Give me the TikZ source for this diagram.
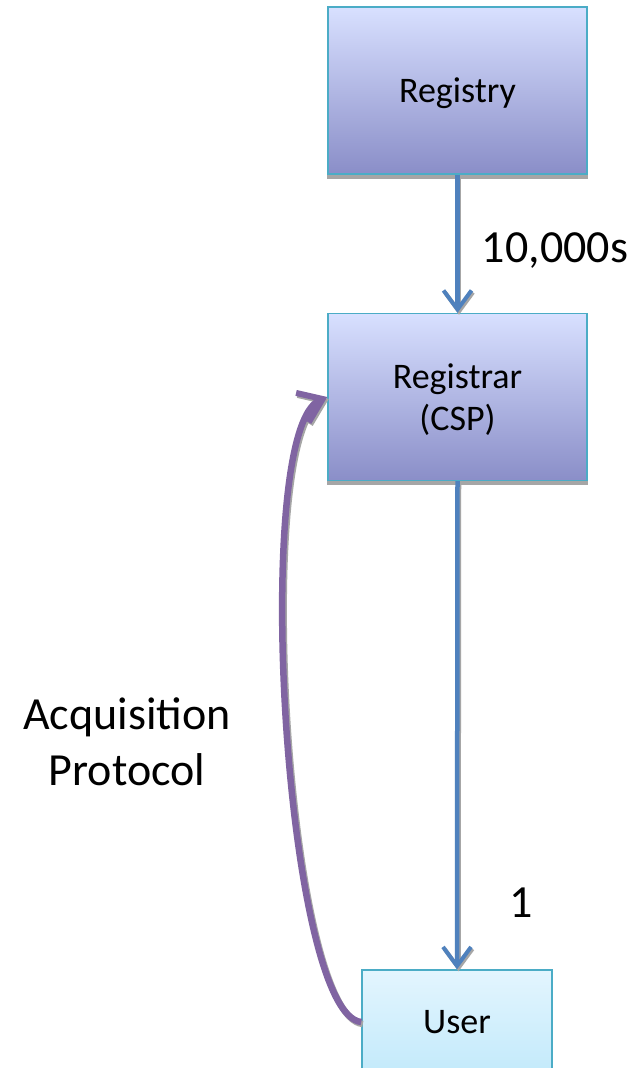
\documentclass[tikz,border=0pt]{standalone}
\usepackage{fontspec}
\setmainfont{Carlito}
\usetikzlibrary{arrows.meta}
\pgfdeclarelayer{bg}
\pgfsetlayers{bg,main}
\definecolor{boxtop}{HTML}{D8E0FF}
\definecolor{boxbot}{HTML}{8A8EC8}
\definecolor{usertop}{HTML}{E3F5FE}
\definecolor{userbot}{HTML}{C3EAFB}
\definecolor{boxedge}{HTML}{4BACC6}
\definecolor{blueline}{HTML}{4F81BD}
\definecolor{purpline}{HTML}{8064A2}
\begin{document}
\begin{tikzpicture}[x=1pt,y=-1pt,
  bigbox/.style={draw=boxedge, line width=1.4pt, top color=boxtop, bottom color=boxbot,
    minimum width=259pt, minimum height=167pt, inner sep=0pt, align=center, text depth=0pt,
    font=\fontsize{36}{42}\selectfont},
  userbox/.style={draw=boxedge, line width=1.4pt, top color=usertop, bottom color=userbot,
    minimum width=190pt, minimum height=104pt, inner sep=0pt, align=center,
    font=\fontsize{36}{42}\selectfont},
  boxshadow/.style={fill=black!35},
  lbl/.style={inner sep=0pt, align=center, font=\fontsize{46}{56}\selectfont},
  shadowline/.style={draw=black!35, transform canvas={shift={(1.5pt,-2pt)}}},
  bluearrow/.style={draw=blueline, line width=4.5pt,
    -{Straight Barb[length=19pt, width=28pt, line width=4pt]}},
  purparrow/.style={draw=purpline, line width=6.5pt,
    -{Straight Barb[length=22pt, width=32pt, line width=6pt]}}
]
\useasboundingbox (0,0) rectangle (641,1068);
\clip (0,0) rectangle (641,1068);

\node[bigbox] (reg) at (457.5,90.5) {Registry};
\node[bigbox] (rar) at (457.5,397) {Registrar\\(CSP)};
\node[userbox] (user) at (457,1022) {User};

\begin{pgfonlayer}{bg}
  \fill[white] (0,0) rectangle (641,1068);
  \fill[boxshadow] ([yshift=-4pt]reg.south west) rectangle (reg.north east);
  \fill[boxshadow] ([yshift=-4pt]rar.south west) rectangle (rar.north east);
\end{pgfonlayer}

\draw[bluearrow, shadowline] (reg.south) -- (rar.north);
\draw[bluearrow, shadowline] (rar.south) -- (user.north);
\draw[purparrow, shadowline] (user.west) .. controls (285,1015) and (250,430) .. (rar.west);

\draw[bluearrow] (reg.south) -- (rar.north);
\draw[bluearrow] (rar.south) -- (user.north);
\draw[purparrow] (user.west) .. controls (285,1015) and (250,430) .. (rar.west);

\node[lbl] (lab10k) at (555,251) {10,000s};
\node[lbl] (lab1) at (521,903) {1};
\node[lbl] (labacq) at (127,742) {Acquisition\\Protocol};
\end{tikzpicture}
\end{document}
